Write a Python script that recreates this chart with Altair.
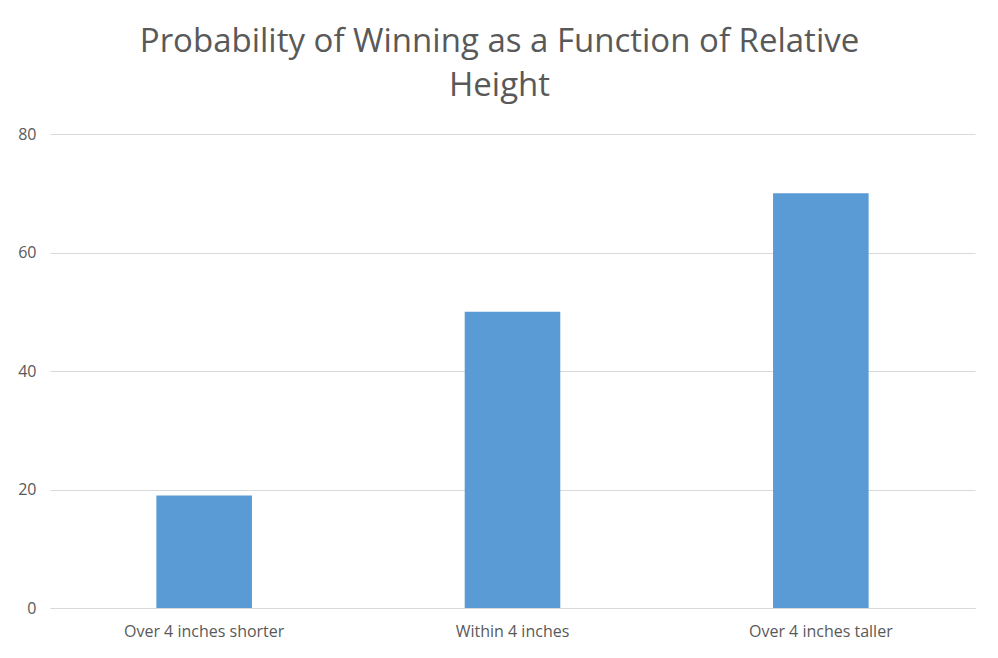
import altair as alt
import pandas as pd

categories = ["Over 4 inches shorter", "Within 4 inches", "Over 4 inches taller"]
values = [19, 50, 70]
y_ticks = [0, 20, 40, 60, 80]
title_lines = ["Probability of Winning as a Function of Relative", "Height"]

df = pd.DataFrame({"category": categories, "value": values})

FONT = "Open Sans"
GRAY = "#595959"

chart = alt.Chart(df).mark_bar(color="#5b9bd5").encode(
    x=alt.X(
        "category:N",
        sort=categories,
        title=None,
        scale=alt.Scale(paddingInner=0.69, paddingOuter=0.345),
        axis=alt.Axis(
            labelAngle=0,
            labelFont=FONT,
            labelFontSize=16,
            labelColor=GRAY,
            labelPadding=15,
            ticks=False,
            grid=False,
            domainColor="#d9d9d9",
            domainWidth=1,
        ),
    ),
    y=alt.Y(
        "value:Q",
        title=None,
        scale=alt.Scale(domain=[0, 80], nice=False),
        axis=alt.Axis(
            values=y_ticks,
            labelFont=FONT,
            labelFontSize=16,
            labelColor=GRAY,
            labelPadding=14,
            ticks=False,
            domain=False,
            gridColor="#d9d9d9",
            gridWidth=1,
        ),
    ),
).properties(
    width=925,
    height=474,
    background="white",
    autosize=alt.AutoSizeParams(type="none"),
    padding={"left": 42, "top": 126, "right": 15, "bottom": 40},
    title=alt.TitleParams(
        text=title_lines,
        font=FONT,
        fontSize=33,
        fontWeight="normal",
        color=GRAY,
        anchor="middle",
        frame="group",
        dx=-13,
        lineHeight=44,
        offset=23,
    ),
).configure_view(strokeWidth=0, stroke="transparent")

chart.save("out.html", embed_options={"renderer": "svg", "actions": False})
